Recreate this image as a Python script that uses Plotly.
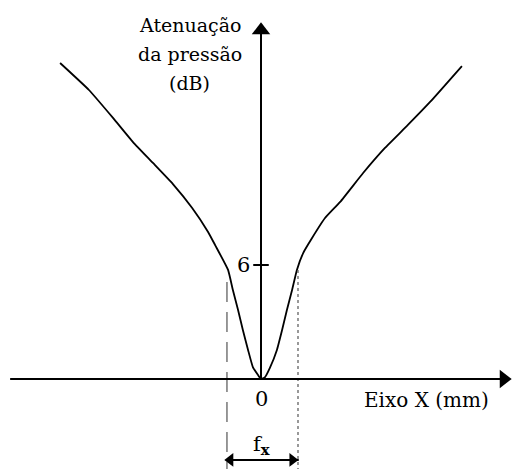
import plotly.graph_objects as go

# Pressure attenuation profile across the X axis (mm vs dB)
left_x = [-5.43, -4.65, -4.0, -3.46, -2.92, -2.38, -1.86, -1.43, -1.24, -0.89, -0.76, -0.62, -0.49, -0.35, -0.22, -0.08, 0.0]
left_y = [16.63, 15.21, 13.74, 12.47, 11.37, 10.26, 9.0, 7.74, 7.05, 5.74, 4.68, 3.63, 2.58, 1.53, 0.63, 0.21, 0.0]
right_x = [0.0, 0.11, 0.24, 0.43, 0.57, 0.70, 0.84, 0.97, 1.14, 1.38, 1.73, 2.14, 2.76, 3.35, 3.97, 4.57, 5.43]
right_y = [0.0, 0.1, 0.58, 1.53, 2.58, 3.63, 4.68, 5.74, 6.63, 7.42, 8.47, 9.32, 10.84, 12.16, 13.37, 14.58, 16.47]

# -6 dB width markers (f_x)
fx_left = -0.92
fx_right = 1.0
fx_left_top = 5.1
fx_right_top = 5.74
tick_value = 6

x_range = [-7.054, 6.919]
y_range = [-4.737, 19.947]

FONT = "DejaVu Serif, Liberation Serif, serif"
INK = "black"


def line(x, y, color=INK, **style):
    return go.Scatter(x=x, y=y, mode="lines", line=dict(color=color, **style),
                      hoverinfo="skip", showlegend=False)


def head(x, y, symbol, size):
    return go.Scatter(x=[x], y=[y], mode="markers",
                      marker=dict(symbol=symbol, size=size, color=INK, line=dict(width=0)),
                      hoverinfo="skip", showlegend=False)


fig = go.Figure()

# Attenuation curve
fig.add_trace(line(left_x + right_x[1:], left_y + right_y[1:],
                   width=1.8, shape="spline", smoothing=0.4))

# Dotted verticals bounding f_x
fig.add_trace(line([fx_left, fx_left], [fx_left_top, y_range[0]],
                   width=1.2, dash="20px,10px", color="#555"))
fig.add_trace(line([fx_right, fx_right], [fx_right_top, y_range[0]],
                   width=1.2, dash="dot", color="#555"))

# Axes with arrowheads
fig.add_trace(line([-6.78, 6.6], [0, 0], width=2))
fig.add_trace(head(6.56, 0, "triangle-right", 16))
fig.add_trace(line([0, 0], [0, 18.4], width=2))
fig.add_trace(head(0, 18.35, "triangle-up", 16))

# Tick at 6 dB on the vertical axis
fig.add_trace(line([-0.21, 0.21], [tick_value, tick_value], width=2))

# f_x double arrow
fx_arrow_y = -4.26
fig.add_trace(line([fx_left - 0.02, fx_right + 0.02], [fx_arrow_y, fx_arrow_y], width=2))
fig.add_trace(head(fx_left + 0.09, fx_arrow_y, "triangle-left", 12))
fig.add_trace(head(fx_right - 0.15, fx_arrow_y, "triangle-right", 12))

title_lines = ["Atenuação", "da pressão", "(dB)"]
title_y = [18.63, 17.11, 15.58]

annotations = [
    dict(x=-0.46, y=tick_value, text="6", font=dict(family=FONT, size=21, color=INK)),
    dict(x=0, y=-1.05, text="0", font=dict(family=FONT, size=21, color=INK)),
    dict(x=0, y=-3.45, text="f<sub><b>x</b></sub>", font=dict(family=FONT, size=21, color=INK)),
    dict(x=4.47, y=-1.1, text="Eixo X (mm)", font=dict(family=FONT, size=20, color=INK)),
]
for txt, ly in zip(title_lines, title_y):
    annotations.append(dict(x=-1.92, y=ly, text=txt,
                            font=dict(family=FONT, size=19, color=INK)))
for a in annotations:
    a.update(xref="x", yref="y", showarrow=False)

fig.update_layout(
    width=517, height=469,
    margin=dict(l=0, r=0, t=0, b=0),
    paper_bgcolor="white", plot_bgcolor="white",
    xaxis=dict(visible=False, range=x_range, fixedrange=True),
    yaxis=dict(visible=False, range=y_range, fixedrange=True),
    annotations=annotations,
    showlegend=False,
)

fig.write_html("out.html")
